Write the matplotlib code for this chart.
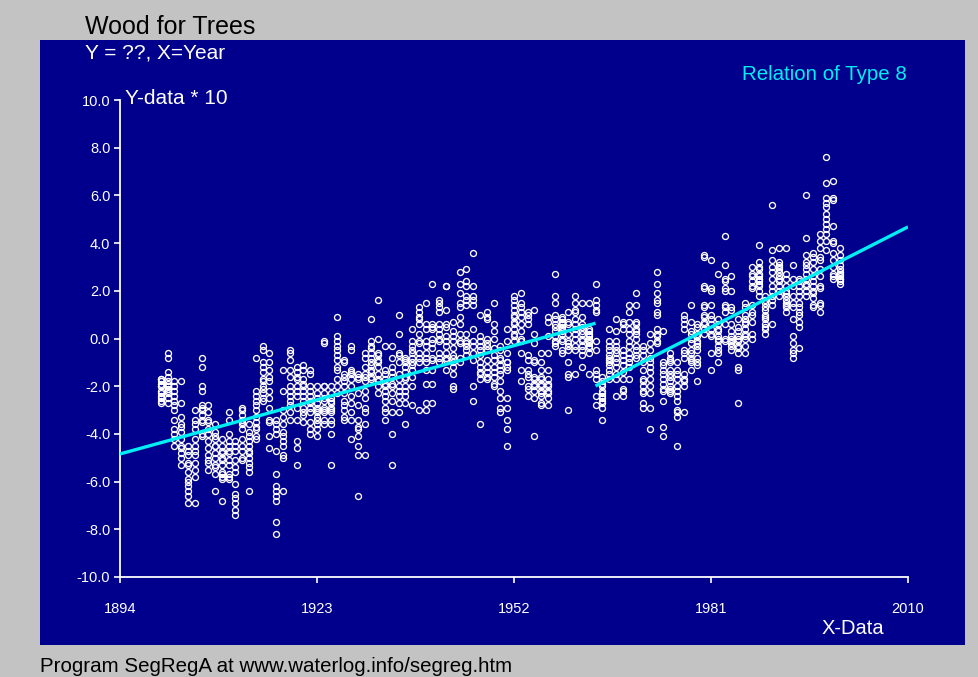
import matplotlib

matplotlib.use("Agg")
import matplotlib.pyplot as plt
import numpy as np
from matplotlib.patches import Rectangle

# monthly values (Y-data * 10), one row of 12 per year
y1900s = [
    [-1.7, -1.8, -2.0, -2.4, -2.6, -2.7, -1.9, -2.2, -2.5, -1.7, -2.0, -2.3],  # 1900
    [-0.6, -0.8, -1.4, -1.8, -1.9, -2.1, -2.3, -2.5, -2.7, -1.6, -2.0, -2.2],
    [-1.8, -2.0, -2.2, -2.6, -3.0, -3.4, -4.0, -4.2, -4.5, -2.4, -2.8, -3.8],
    [-1.8, -2.7, -3.6, -3.7, -3.9, -4.5, -4.8, -5.3, -4.2, -4.6, -5.0, -3.3],
    [-4.5, -4.7, -4.9, -5.2, -5.3, -5.6, -5.9, -6.0, -6.2, -6.4, -6.6, -6.9],
    [-3.0, -3.4, -3.8, -4.5, -4.7, -5.2, -5.5, -6.9, -4.2, -4.9, -3.6, -5.8],
    [-0.8, -1.2, -2.0, -2.2, -2.8, -2.9, -3.0, -3.2, -3.4, -3.5, -4.0, -4.1],
    [-2.8, -3.1, -3.4, -3.5, -4.3, -5.1, -5.2, -5.5, -3.8, -4.6, -4.9, -4.0],
    [-3.6, -3.9, -4.1, -4.5, -4.5, -5.3, -5.4, -5.7, -6.4, -4.8, -5.0, -4.2],
    [-4.2, -4.5, -4.7, -4.8, -5.0, -5.1, -5.3, -5.6, -5.7, -5.8, -5.9, -6.8],
]
y1910s = [
    [-3.1, -3.4, -4.0, -4.3, -4.5, -4.7, -4.8, -5.1, -5.3, -5.7, -5.8, -5.9],
    [-4.3, -4.5, -4.7, -5.1, -5.4, -5.6, -6.1, -6.5, -6.7, -6.9, -7.2, -7.4],
    [-2.9, -3.0, -3.4, -3.5, -3.6, -3.8, -4.5, -4.7, -5.0, -5.1, -4.2, -3.2],
    [-3.6, -4.1, -4.3, -4.5, -4.7, -4.8, -5.0, -5.2, -5.4, -5.6, -6.4, -3.9],
    [-0.8, -2.2, -2.6, -2.8, -3.8, -4.1, -4.2, -3.3, -3.5, -2.4, -3.0, -3.7],
    [-0.3, -0.5, -1.0, -1.4, -1.7, -2.0, -2.1, -2.5, -2.6, -1.2, -1.8, -2.3],
    [-0.6, -1.0, -1.3, -1.6, -1.8, -2.2, -2.5, -3.4, -3.5, -4.1, -4.6, -2.9],
    [-3.4, -3.6, -3.8, -4.0, -4.7, -5.7, -6.2, -6.4, -6.6, -6.8, -7.7, -8.2],
    [-1.3, -2.2, -3.3, -3.6, -3.9, -4.1, -4.5, -4.9, -5.0, -6.4, -4.3, -3.0],
    [-0.5, -0.6, -0.9, -1.3, -2.4, -2.6, -2.0, -3.1, -3.4, -1.6, -2.2, -2.8],
]
y1920s = [
    [-1.2, -1.4, -1.6, -1.7, -2.0, -2.2, -2.4, -2.9, -3.4, -4.3, -4.6, -5.3],
    [-1.1, -1.3, -1.7, -2.0, -2.2, -2.4, -2.9, -3.1, -3.2, -3.5, -2.6, -1.9],
    [-1.3, -1.5, -2.0, -2.2, -2.4, -2.7, -2.9, -3.1, -3.5, -3.8, -4.0, -2.6],
    [-2.0, -2.3, -2.5, -2.7, -2.9, -3.0, -3.1, -3.3, -3.4, -3.6, -3.8, -4.1],
    [-0.1, -0.2, -2.0, -2.0, -2.3, -2.6, -2.9, -3.0, -3.1, -3.4, -3.6, -2.5],
    [-2.0, -2.3, -2.6, -2.7, -2.9, -3.0, -3.1, -3.4, -3.6, -4.0, -5.3, -2.5],
    [0.9, 0.1, -0.1, -0.3, -0.5, -0.7, -0.9, -1.2, -1.3, -1.7, -2.0, -2.3],
    [-0.9, -1.0, -1.5, -1.8, -2.0, -2.3, -2.6, -3.0, -3.3, -3.4, -1.6, -2.8],
    [-0.3, -0.5, -1.3, -1.4, -1.5, -1.7, -2.4, -2.7, -3.1, -3.4, -4.2, -2.0],
    [-1.5, -1.6, -1.7, -2.3, -2.8, -3.4, -3.7, -3.8, -4.1, -4.5, -4.9, -6.6],
]
y1930s = [
    [-0.6, -0.8, -1.5, -1.6, -1.8, -2.2, -2.9, -3.1, -3.6, -4.9, -2.5, -1.2],
    [0.8, -0.1, -0.3, -0.6, -0.8, -1.1, -1.4, -1.6, -1.7, -0.4, -1.0, -1.3],
    [1.6, 0.0, -0.6, -0.7, -1.0, -1.5, -1.7, -2.0, -2.3, -1.2, -0.9, -1.8],
    [-0.3, -1.3, -1.7, -1.9, -2.0, -2.2, -2.4, -2.9, -3.1, -3.4, -2.6, -1.5],
    [-0.3, -0.8, -1.2, -1.6, -2.0, -2.3, -2.6, -3.1, -4.0, -5.3, -1.4, -1.9],
    [1.0, 0.2, -0.6, -0.7, -1.0, -1.5, -1.7, -2.0, -2.2, -2.4, -2.7, -3.1],
    [-0.8, -0.9, -1.4, -1.7, -2.0, -2.4, -2.7, -3.6, -1.2, -2.2, -1.0, -1.6],
    [0.4, -0.1, -0.3, -0.6, -0.8, -1.0, -1.3, -1.6, -2.0, -2.8, -0.5, -1.1],
    [1.3, 1.1, 0.9, 0.8, 0.6, 0.2, -0.1, -0.2, -0.6, -0.8, -1.0, -3.0],
    [1.5, 0.6, 0.4, -0.1, -0.3, -0.6, -1.0, -1.3, -1.9, -2.7, -3.0, -0.8],
]
y1940s = [
    [2.3, 0.6, 0.5, 0.4, -0.4, -0.8, -0.9, -1.3, -1.9, -2.7, 0.0, -0.2],
    [1.6, 1.5, 1.3, 1.1, 0.6, 0.4, 0.2, -0.1, -0.6, -0.8, -1.0, 0.0],
    [2.2, 2.2, 1.2, 0.6, 0.5, 0.1, -0.1, -0.6, -0.8, -0.9, -1.3, -0.3],
    [0.7, 0.1, -0.1, -0.7, -0.8, -1.2, -1.5, -2.0, -2.1, 0.3, -0.4, -1.0],
    [2.8, 2.3, 1.9, 1.5, 1.3, 0.6, 0.2, -0.1, -0.2, -0.8, -1.0, 0.9],
    [2.9, 2.4, 2.2, 1.8, 1.6, 1.4, 0.2, -0.1, -0.2, -0.3, -0.5, -0.7],
    [3.6, 2.2, 1.8, 1.6, 1.4, 0.4, -0.1, -0.3, -0.6, -0.9, -2.0, -2.6],
    [1.0, 0.1, -0.1, -0.3, -0.7, -1.0, -1.2, -1.4, -1.5, -1.7, -3.6, -0.5],
    [1.1, 0.9, 0.8, 0.0, -0.2, -0.5, -0.9, -1.2, -1.4, -1.6, -1.7, -0.3],
    [1.5, 0.6, 0.3, 0.0, -0.7, -0.9, -1.2, -1.6, -1.9, -2.0, -0.4, -1.4],
]
y1950s = [
    [-0.3, -0.5, -0.8, -0.9, -1.1, -1.5, -1.8, -2.2, -2.5, -2.9, -3.1, -1.3],
    [0.4, -0.1, -1.0, -1.0, -1.2, -1.3, -2.5, -2.9, -3.4, -3.8, -4.5, -0.6],
    [1.8, 1.6, 1.4, 1.0, 0.9, 0.6, 0.4, 0.1, -0.1, 0.7, 1.2, 0.2],
    [1.9, 1.5, 1.1, 0.9, 0.6, -0.1, -0.6, -1.3, -1.8, 0.3, 1.3, 0.0],
    [1.1, 1.0, 0.8, 0.6, -0.7, -0.9, -1.3, -1.5, -1.6, -2.0, -2.1, -2.4],
    [1.2, 0.2, -0.2, -0.9, -1.0, -1.6, -1.7, -1.9, -2.0, -2.2, -2.5, -4.1],
    [-0.6, -1.0, -1.6, -1.7, -1.9, -2.0, -2.2, -2.3, -2.4, -2.7, -2.8, -1.3],
    [0.9, 0.7, 0.1, -0.6, -1.3, -1.7, -1.9, -2.0, -2.2, -2.3, -2.5, -2.8],
    [2.7, 1.8, 1.5, 0.8, 0.5, -0.1, -0.2, -0.3, 0.3, 1.0, 0.1, 0.6],
    [0.9, 0.7, 0.6, 0.5, 0.4, 0.3, 0.2, -0.1, -0.5, -0.6, 0.0, 0.8],
]
y1960s = [
    [1.1, 0.7, 0.6, -0.1, -0.2, -0.5, -1.0, -1.5, -1.6, -3.0, 0.2, -0.3],
    [1.8, 1.5, 1.1, 0.8, 0.6, 0.2, -0.3, -0.5, -1.5, 0.4, 1.2, 0.0],
    [1.5, 0.6, 0.5, 0.2, -0.1, -0.3, -0.5, -1.2, 0.9, 0.3, 0.0, -0.7],
    [1.5, 0.4, 0.2, 0.0, -0.2, -0.4, -0.6, -1.5, 0.1, -0.3, 0.3, -0.1],
    [2.3, 1.6, 1.4, 1.2, 1.1, -0.1, -0.5, -1.3, -1.5, -1.7, -2.4, -2.8],
    [-1.6, -1.8, -2.2, -2.4, -2.6, -2.7, -2.9, -3.4, -2.0, -1.9, -2.5, -2.3],
    [0.4, -0.1, -0.5, -0.9, -1.1, -1.3, -1.7, -0.7, -0.3, -1.5, -0.8, -1.0],
    [0.8, 0.3, -0.1, -0.3, -0.5, -0.8, -1.0, -1.2, -1.5, -1.7, -2.4, -0.6],
    [0.7, 0.6, 0.4, -0.5, -0.7, -0.9, -1.1, -1.7, -2.1, -2.2, -2.4, -1.4],
    [1.4, 1.1, 0.4, -0.1, -0.6, -0.8, -1.0, -1.2, -1.7, 0.2, -0.3, 0.7],
]
y1970s = [
    [1.9, 1.4, 0.7, 0.6, 0.4, 0.3, 0.2, -0.3, -0.5, -0.7, -0.8, 0.0],
    [-0.3, -0.5, -0.7, -1.3, -1.7, -1.8, -2.0, -2.2, -2.3, -2.7, -2.9, -1.0],
    [0.2, -0.5, -0.8, -1.0, -1.2, -1.7, -2.0, -2.9, -3.8, -1.4, -0.2, -2.3],
    [2.8, 2.3, 1.9, 1.6, 1.5, 1.1, 1.0, 0.4, 0.2, 0.1, -0.1, -0.2],
    [0.3, -1.0, -1.1, -1.5, -1.7, -1.9, -2.1, -2.2, -2.6, -3.7, -4.1, -1.3],
    [-0.8, -0.9, -1.3, -1.5, -1.8, -2.0, -2.1, -2.2, -2.3, -1.0, -1.6, -0.6],
    [-1.0, -1.3, -1.7, -2.0, -2.2, -2.4, -3.0, -3.1, -3.3, -4.5, -1.5, -2.6],
    [1.0, 0.8, 0.6, 0.4, -0.5, -0.6, -0.8, -1.5, -1.7, -1.8, -2.0, -3.1],
    [1.4, 0.7, 0.3, 0.2, -0.5, -0.8, -0.9, -1.0, -1.3, -0.2, 0.0, -0.6],
    [0.6, 0.5, 0.1, -0.2, -0.3, -0.5, -0.8, -1.0, -1.1, -1.8, 0.2, -0.1],
]
y1980s = [
    [3.5, 3.4, 2.2, 2.1, 1.4, 1.3, 0.9, 0.7, 0.6, 1.0, 0.4, 0.2],
    [3.3, 2.1, 2.0, 1.4, 0.8, 0.6, 0.4, 0.1, -0.6, -1.3, 1.0, 0.2],
    [2.7, 0.8, 0.4, 0.1, 0.0, -0.1, 0.6, -0.3, -0.5, 0.3, -0.6, -1.0],
    [4.3, 3.1, 2.5, 2.4, 2.1, 2.0, 1.4, 1.3, 1.1, 0.0, -0.1, 0.6],
    [2.6, 2.0, 1.3, 1.2, 0.6, 0.1, 0.0, -0.1, -0.3, -0.5, 0.3, -0.2],
    [0.8, 0.5, 0.3, 0.1, 0.0, -0.3, -0.4, -0.6, -1.2, -1.3, -2.7, -0.1],
    [1.5, 1.3, 1.0, 0.8, 0.6, 0.4, 0.1, 0.0, -0.3, -0.6, 0.2, 0.7],
    [3.0, 2.7, 2.6, 2.4, 2.2, 2.1, 1.4, 1.1, 1.0, 0.7, 0.2, 0.0],
    [3.9, 3.2, 2.7, 2.6, 2.5, 2.3, 2.2, 2.0, 1.8, 3.0, 2.4, 2.9],
    [1.8, 1.5, 1.3, 0.8, 0.4, 0.2, 1.0, 1.2, 0.6, 1.6, 0.9, 0.5],
]
y1990s = [
    [5.6, 3.7, 3.0, 2.8, 2.2, 2.0, 1.8, 1.4, 0.6, 2.5, 3.3, 1.6],
    [3.8, 3.2, 3.1, 2.9, 2.8, 2.5, 2.4, 2.2, 2.0, 1.8, 2.6, 3.0],
    [3.8, 2.7, 2.5, 2.2, 2.0, 1.8, 1.6, 1.4, 1.3, 1.1, 1.5, 1.9],
    [3.1, 2.5, 2.2, 1.8, 1.5, 1.3, 0.8, 0.1, -0.2, -0.5, -0.6, -0.8],
    [2.5, 2.4, 2.0, 1.8, 1.3, 1.1, 1.0, 0.7, -0.4, 1.5, 0.5, 2.2],
    [6.0, 4.2, 3.2, 3.1, 2.7, 2.5, 2.2, 2.0, 1.8, 3.5, 2.9, 2.3],
    [3.6, 3.4, 3.2, 2.9, 2.2, 2.0, 1.9, 1.4, 1.3, 2.6, 2.4, 1.7],
    [4.1, 3.4, 3.3, 2.9, 2.2, 2.1, 1.5, 1.4, 1.1, 2.6, 3.8, 4.4],
    [7.6, 6.5, 5.9, 5.7, 5.5, 5.0, 4.8, 4.4, 4.1, 3.7, 5.2, 4.6],
    [6.6, 5.9, 5.8, 4.7, 4.1, 4.0, 3.6, 3.3, 2.7, 2.6, 2.5, 3.0],
]
y2000s = [
    [3.8, 3.1, 2.9, 2.6, 2.5, 2.3, 2.4, 3.3, 2.7, 2.8, 3.5, 2.5],  # 2000
]
first_year = 1900

# segmented regression (type 8): two straight pieces, break at 1964
seg1_x = [1894, 1964]
seg1_y = [-4.84, 0.64]
seg2_x = [1964, 2010]
seg2_y = [-1.99, 4.68]

x_ticks = [1894, 1923, 1952, 1981, 2010]
y_ticks = [-10, -8, -6, -4, -2, 0, 2, 4, 6, 8, 10]

NAVY = "#00008c"
GREY = "#c3c3c3"
CYAN = "#00eef4"
W, H = 979, 677

plt.rcParams["font.family"] = ["Liberation Sans", "DejaVu Sans"]

rows = y1900s + y1910s + y1920s + y1930s + y1940s + y1950s + y1960s + y1970s + y1980s + y1990s + y2000s
vals = np.array(rows, dtype=float)
years = first_year + np.arange(len(rows))
xs = np.repeat(years, vals.shape[1])
ys = vals.ravel()

fig = plt.figure(figsize=(W / 100, H / 100), dpi=100, facecolor=GREY)
fig.patches.append(Rectangle((40 / W, 1 - 645 / H), 925 / W, 605 / H,
                             transform=fig.transFigure, facecolor=NAVY,
                             edgecolor="none", zorder=-5))

ax = fig.add_axes([120 / W, 1 - 577 / H, 788 / W, 477 / H])
ax.set_zorder(2)
ax.set_facecolor("none")
ax.plot(xs, ys, "o", mfc="none", mec="white", ms=4.3, mew=0.95, zorder=2)
ax.plot(seg1_x, seg1_y, color=CYAN, lw=2.4, solid_capstyle="butt", zorder=3)
ax.plot(seg2_x, seg2_y, color=CYAN, lw=2.4, solid_capstyle="butt", zorder=3)

ax.set_xlim(1894, 2010)
ax.set_ylim(-10, 10)
ax.set_xticks(x_ticks)
ax.set_yticks(y_ticks)
ax.set_yticklabels([f"{v:.1f}" for v in y_ticks])
for s in ("top", "right"):
    ax.spines[s].set_visible(False)
for s in ("left", "bottom"):
    ax.spines[s].set_color("white")
    ax.spines[s].set_linewidth(1.3)
ax.tick_params(axis="y", colors="white", labelsize=10.5, length=4, width=1.2, pad=3)
ax.tick_params(axis="x", colors="white", labelsize=10.5, length=4, width=1.2, pad=14)

fig.text(85 / W, 1 - 27 / H, "Wood for Trees", fontsize=18, color="black", va="center")
fig.text(85 / W, 1 - 53 / H, "Y = ??, X=Year", fontsize=15, color="white", va="center")
fig.text(125 / W, 1 - 98 / H, "Y-data * 10", fontsize=15, color="white", va="center")
fig.text(742 / W, 1 - 74 / H, "Relation of Type 8", fontsize=14.8, color=CYAN, va="center")
fig.text(822 / W, 1 - 628 / H, "X-Data", fontsize=14.5, color="white", va="center")
fig.text(40 / W, 1 - 666 / H, "Program SegRegA at www.waterlog.info/segreg.htm",
         fontsize=14.8, color="black", va="center")

fig.savefig("out.png", dpi=100, facecolor=GREY)
